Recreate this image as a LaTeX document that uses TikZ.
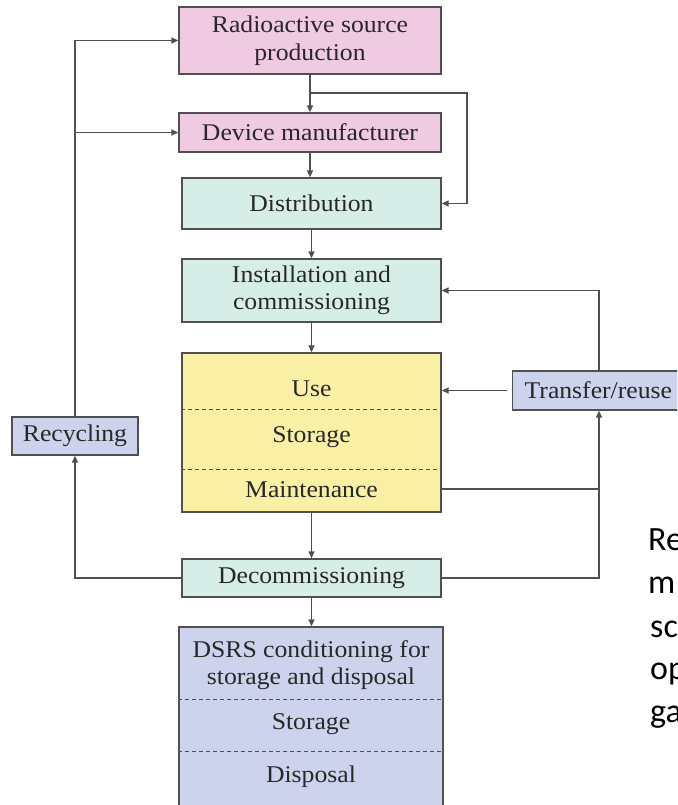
\documentclass[tikz,border=0pt]{standalone}
\usepackage{fontspec}
\setmainfont{Liberation Serif}[FakeStretch=1.07]
\newfontfamily\calib{Carlito}
\usetikzlibrary{arrows.meta,calc}
\definecolor{pinkf}{RGB}{239,202,224}
\definecolor{mintf}{RGB}{214,238,231}
\definecolor{yelf}{RGB}{250,240,165}
\definecolor{lavf}{RGB}{205,211,236}
\definecolor{linec}{RGB}{80,80,80}
\definecolor{textc}{RGB}{40,40,40}
\newcommand{\mainf}{\fontsize{24}{27.5}\selectfont}
\begin{document}
\begin{tikzpicture}[x=1pt,y=-1pt,
  box/.style={draw=linec, line width=1.3pt, inner sep=0pt, align=center, font=\mainf, text=textc},
  lbl/.style={inner sep=0pt, align=center, font=\mainf, text=textc},
  conn/.style={draw=linec, line width=1.3pt, -{Triangle[length=7pt,width=6pt]}},
  plain/.style={draw=linec, line width=1.3pt},
  sepline/.style={draw=linec, line width=1pt, dash pattern=on 4pt off 3pt},
  side/.style={anchor=base west, inner sep=0pt, font=\calib\fontsize{34}{41}\selectfont, text=black}]
\useasboundingbox (0,0) rectangle (677,805);
\fill[white] (0,0) rectangle (677,805);
\clip (0,0) rectangle (677,805);

% boxes
\node[box, fill=pinkf, minimum width=262pt, minimum height=67pt] (rsp) at (310,40.5) {Radioactive source\\production};
\node[box, fill=pinkf, minimum width=262pt, minimum height=39pt] (dm) at (310,132.5) {Device manufacturer};
\node[box, fill=mintf, minimum width=259pt, minimum height=51pt] (dist) at (311.5,203.5) {Distribution};
\node[box, fill=mintf, minimum width=259pt, minimum height=63pt] (inst) at (311.5,290.5) {Installation and\\commissioning};
\node[box, fill=yelf, minimum width=259pt, minimum height=159pt] (usebox) at (311.5,432.5) {};
\node[lbl] (use) at (311.5,389) {Use};
\node[lbl] (stor1) at (311.5,437) {Storage};
\node[lbl] (maint) at (311.5,490) {Maintenance};
\node[box, fill=mintf, minimum width=259pt, minimum height=38pt] (dec) at (311.5,578) {Decommissioning};
\node[box, fill=lavf, minimum width=264pt, minimum height=203pt] (dsrs) at (311,728.5) {};
\node[lbl] (cond) at (311,665) {DSRS conditioning for\\storage and disposal};
\node[lbl] (stor2) at (311,724) {Storage};
\node[lbl] (disp) at (311,777) {Disposal};
\node[box, fill=lavf, minimum width=126pt, minimum height=38pt] (rec) at (75,436) {Recycling};
\node[box, fill=lavf, minimum height=39pt, inner xsep=12pt, anchor=west] (tr) at (512,390.5) {Transfer/reuse};

% dashed separators
\coordinate (d1) at (0,409);
\coordinate (d2) at (0,469);
\coordinate (d3) at (0,699);
\coordinate (d4) at (0,751);
\draw[sepline] (usebox.west |- d1) -- (usebox.east |- d1);
\draw[sepline] (usebox.west |- d2) -- (usebox.east |- d2);
\draw[sepline] (dsrs.west |- d3) -- (dsrs.east |- d3);
\draw[sepline] (dsrs.west |- d4) -- (dsrs.east |- d4);

% main chain
\draw[conn] (rsp.south) -- (dm.north);
\draw[conn] (dm.south) -- (dm.south |- dist.north);
\draw[conn] (dist.south) -- (inst.north);
\draw[conn] (inst.south) -- (usebox.north);
\draw[conn] (usebox.south) -- (dec.north);
\draw[conn] (dec.south) -- (dec.south |- dsrs.north);

% bypass to distribution
\coordinate (j1) at (310,93);
\coordinate (c2) at (467,203.5);
\draw[conn] (j1) -| (c2) -- (dist.east);

% recycling loop
\draw[conn] (dec.west) -| (rec.south);
\draw[conn] (rec.north) |- (rsp.west);
\draw[conn] (rec.north |- dm.west) -- (dm.west);

% transfer/reuse loop
\coordinate (vx) at (599,0);
\coordinate (mrow) at (0,489);
\draw[plain] (usebox.east |- mrow) -- (vx |- mrow);
\draw[conn] (dec.east) -| (vx |- tr.south);
\draw[conn] (vx |- tr.north) |- (inst.east);
\draw[conn, shorten <=5pt] (tr.west) -- (tr.west -| usebox.east);

% cut-off side text
\node[side] (t1) at (648,550) {Re};
\node[side] (t2) at (648,593) {m};
\node[side] (t3) at (650,637) {sc};
\node[side] (t4) at (650,679) {op};
\node[side] (t5) at (650,722) {ga};
\end{tikzpicture}
\end{document}
